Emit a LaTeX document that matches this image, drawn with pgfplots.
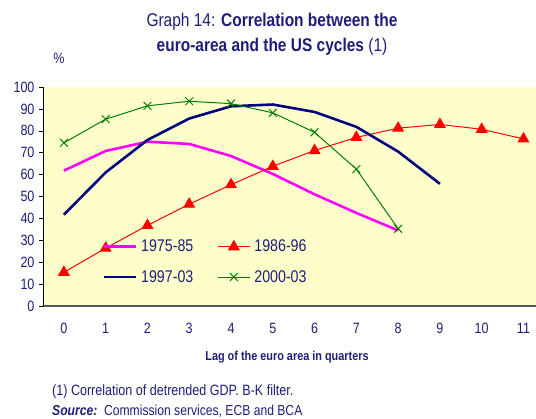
\documentclass[border=0pt]{standalone}
\usepackage{fontspec}
\setmainfont{Liberation Sans}[FakeStretch=0.84]
\usepackage{pgfplots}
\pgfplotsset{compat=1.18}
\definecolor{navytxt}{RGB}{30,30,120}
\definecolor{bgyellow}{RGB}{255,255,204}
\definecolor{cmag}{RGB}{255,0,255}
\definecolor{cred}{RGB}{255,0,0}
\definecolor{cnavy}{RGB}{0,0,128}
\definecolor{cgreen}{RGB}{0,128,0}
\begin{document}
\begin{tikzpicture}[x=1bp,y=1bp]
\useasboundingbox (0,0) rectangle (536,418);
\begin{axis}[
  at={(43bp,112bp)}, anchor=south west,
  width=493bp, height=219bp, scale only axis,
  xmin=-0.5, xmax=11.3, ymin=0, ymax=100,
  xtick={0,...,11}, ytick={0,10,...,100},
  axis x line*=bottom, axis y line*=left,
  x axis line style={draw=gray!70!black, line width=1.2pt, -},
  y axis line style={draw=black, line width=0.6pt, -},
  axis background/.style={fill=bgyellow},
  /pgf/number format/assume math mode=true,
  ticklabel style={font=\fontsize{15}{15}\selectfont, text=navytxt},
  xtick style={draw=none},
  ytick style={draw=black, line width=0.6pt},
  major tick length=4bp,
  ytick pos=left,
  tick align=outside,
  xticklabel style={yshift=-10bp},
  yticklabel style={xshift=-1bp},
  legend columns=2,
  legend style={draw=none, fill=none, at={(axis cs:0.85,32)}, anchor=north west,
    font=\fontsize{17}{17}\selectfont, text=navytxt,
    /tikz/every odd column/.append style={column sep=2bp},
    /tikz/every even column/.append style={column sep=22bp},
    row sep=13bp},
  legend cell align=left,
  legend image code/.code={
    \draw[#1] (0bp,0bp) -- (32bp,0bp);
    \draw[#1, only marks] plot coordinates {(16bp,0bp)};
  },
]
\addplot[cmag, line width=2.6pt, mark=none] coordinates {
 (0,61.8) (1,70.8) (2,75) (3,74) (4,68.5) (5,60.3) (6,51) (7,42.5) (8,34.5)};
\addlegendentry{1975-85}
\addplot[cred, line width=1pt, mark=triangle*, mark size=6bp, mark options={fill=cred, solid}] coordinates {
 (0,15.4) (1,26.4) (2,36.8) (3,46.5) (4,55.4) (5,63.8) (6,71) (7,77) (8,81.2) (9,82.9) (10,80.7) (11,76.3)};
\addlegendentry{1986-96}
\addplot[cnavy, line width=2.6pt, mark=none] coordinates {
 (0,41.7) (1,61) (2,75.8) (3,85.6) (4,91.2) (5,92) (6,88.6) (7,81.8) (8,70.5) (9,55.8)};
\addlegendentry{1997-03}
\addplot[cgreen, line width=1pt, mark=x, mark size=5.5bp, mark options={line width=1pt}] coordinates {
 (0,74.5) (1,85.3) (2,91.4) (3,93.5) (4,92.4) (5,88.2) (6,79.3) (7,62.5) (8,35.3)};
\addlegendentry{2000-03}
\end{axis}
\node[text=navytxt, font=\fontsize{18.5}{18.5}\selectfont] at (272,396) {Graph 14: \textbf{Correlation between the}};
\node[text=navytxt, font=\fontsize{18.5}{18.5}\selectfont] at (272,371) {\textbf{euro-area and the US cycles} (1)};
\node[text=navytxt, font=\fontsize{15}{15}\selectfont] at (59,360) {\%};
\node[text=navytxt, font=\fontsize{13}{13}\selectfont\bfseries] at (287,61) {Lag of the euro area in quarters};
\node[text=navytxt, font=\fontsize{15}{15}\selectfont, anchor=west, inner sep=0pt] at (52,26) {(1) Correlation of detrended GDP. B-K filter.};
\node[text=navytxt, font=\fontsize{14.5}{14.5}\selectfont, anchor=west, inner sep=0pt] at (52,7) {\textbf{\itshape Source:}\ \ Commission services, ECB and BCA};
\end{tikzpicture}
\end{document}
